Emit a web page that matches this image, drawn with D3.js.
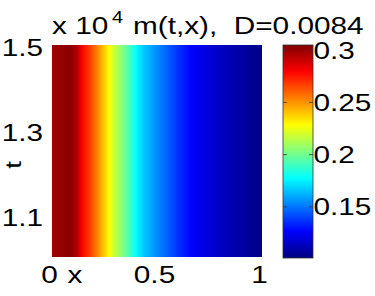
<!DOCTYPE html>
<meta charset="utf-8">
<html>
<head>
<style>
  body { margin: 0; background: #fff; }
  text { font-family: "Liberation Sans", Arial, sans-serif; fill: #000; white-space: pre; }
</style>
</head>
<body>
<svg width="375" height="296"></svg>
<script src="https://d3js.org/d3.v7.min.js"></script>
<script>

// m(t,x) profile along x (the picture shows the same profile for every t)
var xPos = [0, 0.04, 0.086, 0.12, 0.143, 0.18, 0.214, 0.245, 0.27, 0.30, 0.338, 0.37,
            0.40, 0.443, 0.514, 0.586, 0.66, 0.72, 0.78, 0.84, 0.9, 0.95, 1.0];
var mVal = [0.298, 0.301, 0.303, 0.295, 0.280, 0.267, 0.254, 0.241, 0.229, 0.216, 0.203, 0.190,
            0.178, 0.165, 0.152, 0.139, 0.127, 0.121, 0.116, 0.112, 0.109, 0.105, 0.102];
var tRange = [1.008, 1.507];      // x 10^4
var xTicks = [0, 0.5, 1];
var tTicks = [1.1, 1.3, 1.5];
var cTicks = [0.15, 0.2, 0.25, 0.3];
var cRange = [0.101, 0.305];

var svg = d3.select("svg");
var SX = 1.24;   // labels in the figure are stretched sideways
var FS = 24;

function jet(s) {
  var f = function(v) { return Math.round(255 * Math.max(0, Math.min(1, v))); };
  return d3.rgb(f(1.5 - Math.abs(4 * s - 3)), f(1.5 - Math.abs(4 * s - 2)), f(1.5 - Math.abs(4 * s - 1))).toString();
}

var x = d3.scaleLinear().domain([0, 1]).range([52, 262]);
var y = d3.scaleLinear().domain(tRange).range([257, 45]);
var norm = d3.scaleLinear().domain(cRange).range([0, 1]).clamp(true);
var cy = d3.scaleLinear().domain(cRange).range([258, 45]);

function label(px, py, txt, size, anchor, extra) {
  var t = svg.append("text")
      .attr("transform", "translate(" + px + "," + py + ")" + (extra || "") + " scale(" + SX + ",1)")
      .attr("font-size", size)
      .attr("text-anchor", anchor)
      .text(txt);
  return t;
}

var defs = svg.append("defs");

// heat map: one gradient built from the profile
var g1 = defs.append("linearGradient").attr("id", "prof")
    .attr("gradientUnits", "userSpaceOnUse")
    .attr("x1", x(0)).attr("x2", x(1)).attr("y1", 0).attr("y2", 0);
g1.selectAll("stop").data(xPos).enter().append("stop")
    .attr("offset", function(d) { return d; })
    .attr("stop-color", function(d, i) { return jet(norm(mVal[i])); });

svg.append("rect")
    .attr("x", x(0)).attr("y", y(tRange[1]))
    .attr("width", x(1) - x(0)).attr("height", y(tRange[0]) - y(tRange[1]))
    .attr("fill", "url(#prof)");

// colour bar
var knots = [0, 0.125, 0.375, 0.625, 0.875, 1];
var g2 = defs.append("linearGradient").attr("id", "cbar")
    .attr("x1", 0).attr("x2", 0).attr("y1", 1).attr("y2", 0);
g2.selectAll("stop").data(knots).enter().append("stop")
    .attr("offset", function(d) { return d; })
    .attr("stop-color", function(d) { return jet(d); });

var cbL = 283, cbR = 313;
svg.append("rect")
    .attr("x", cbL).attr("y", cy(cRange[1]))
    .attr("width", cbR - cbL).attr("height", cy(cRange[0]) - cy(cRange[1]))
    .attr("fill", "url(#cbar)")
    .attr("stroke", "#333").attr("stroke-width", 0.8);

cTicks.forEach(function(v) {
  svg.append("line").attr("x1", cbR - 4).attr("x2", cbR).attr("y1", cy(v)).attr("y2", cy(v))
      .attr("stroke", "#333").attr("stroke-width", 0.8);
  svg.append("line").attr("x1", cbL).attr("x2", cbL + 4).attr("y1", cy(v)).attr("y2", cy(v))
      .attr("stroke", "#333").attr("stroke-width", 0.8);
  label(cbR + 0.5, cy(v) + 8.5, d3.format("")(v), FS, "start");
});

// axes labels
xTicks.forEach(function(v) {
  label(x(v) - 2.5, 283, d3.format("")(v), FS, "middle");
});
tTicks.forEach(function(v) {
  label(43, y(v) + 8.5, d3.format(".1f")(v), FS, "end");
});
label(75, 283, "x", FS, "middle");
label(21, 165, "t", 22, "middle", " rotate(-90)");

// title with exponent
label(52, 34, "x 10", FS, "start");
label(112, 23, "4", 16, "start");
label(133, 34, "m(t,x),  D=0.0084", FS, "start");

</script>
</body>
</html>
